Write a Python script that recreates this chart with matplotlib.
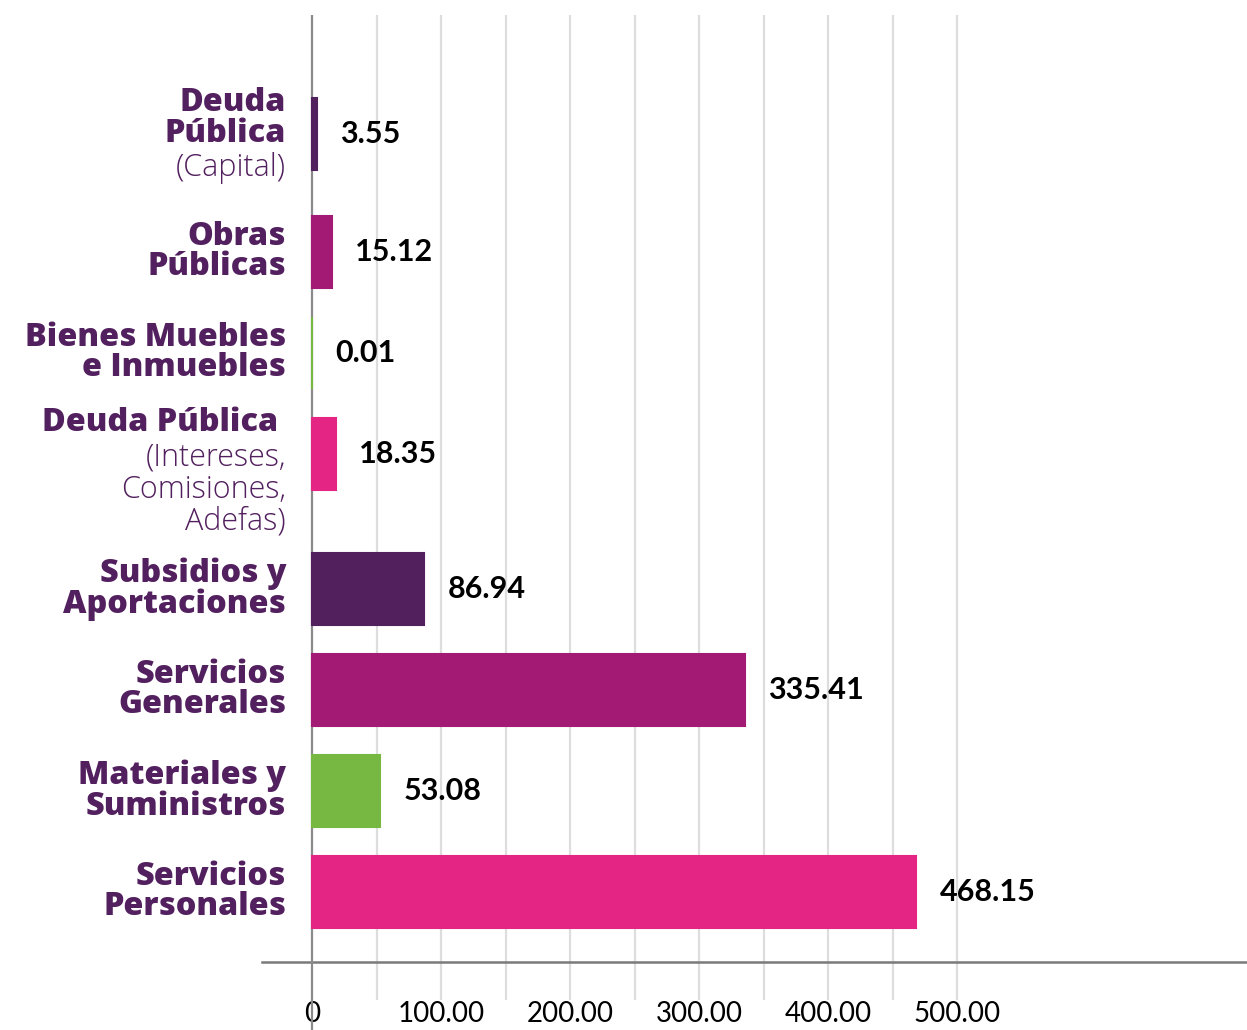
import matplotlib
matplotlib.use('Agg')
import matplotlib.pyplot as plt
import numpy as np
from matplotlib.offsetbox import TextArea, VPacker, AnnotationBbox

###############################
# datos
###############################
categorias = ['Deuda\nPública', 'Obras\nPúblicas', 'Bienes Muebles\ne Inmuebles',
              'Deuda Pública ', 'Subsidios y\nAportaciones', 'Servicios\nGenerales',
              'Materiales y\nSuministros', 'Servicios\nPersonales']
notas = ['(Capital)', '', '', '(Intereses,\nComisiones,\nAdefas)', '', '', '', '']
montos = [3.55, 15.12, 0.01, 18.35, 86.94, 335.41, 53.08, 468.15]
colores = ['#52215d', '#a21a73', '#77b843', '#e52583',
           '#52215d', '#a21a73', '#77b843', '#e52583']
ticks = [0, 100, 200, 300, 400, 500]
tick_labels = ['0', '100.00', '200.00', '300.00', '400.00', '500.00']
grid_x = np.arange(50, 501, 50)

morado = '#52205e'

###############################
# posiciones: las etiquetas largas piden mas espacio debajo
###############################
lineas = [c.count('\n') + 1 + (n.count('\n') + 1 if n else 0)
          for c, n in zip(categorias, notas)]
y_pos = [0.0]
for n in lineas[:-1]:
    y_pos.append(y_pos[-1] + 1 + 0.168 * max(n - 2, 0))
y_pos = np.array(y_pos)
alto = 0.713

###############################
# figura
###############################
W, H = 1247, 1030
fig = plt.figure(figsize=(W / 100, H / 100), dpi=100)
ax = fig.add_axes([262 / W, 68 / H, 985 / W, 947 / H])

ppu = 645 / 500.0  # pixeles por unidad
ax.set_xlim(-50 / ppu, 935 / ppu)
ax.set_ylim(y_pos[-1] + 70 / 101, -119 / 101)

ax.barh(y_pos, montos, height=alto, color=colores, edgecolor=colores,
        linewidth=1.5, zorder=4)

ax.vlines(grid_x, -0.04, 1, transform=ax.get_xaxis_transform(),
          colors='#dddddd', lw=1.6, clip_on=False, zorder=0)
ax.vlines(0, -0.072, 1, transform=ax.get_xaxis_transform(),
          colors='#8a8a8a', lw=1.6, clip_on=False, zorder=3)

for s in ['top', 'right', 'left']:
    ax.spines[s].set_visible(False)
ax.spines['bottom'].set_color('#7a7a7a')
ax.spines['bottom'].set_linewidth(1.8)

ax.set_yticks([])
ax.set_xticks(ticks, tick_labels)
ax.tick_params(axis='x', length=0, pad=28, labelsize=20)
for t in ax.get_xticklabels():
    t.set_fontfamily('Lato')

# valores
for y, v in zip(y_pos, montos):
    ax.annotate(f'{v:.2f}', xy=(v, y), xytext=(17, 0), textcoords='offset points',
                va='center', ha='left', fontsize=22, fontweight='bold',
                family='Lato', color='black')

# etiquetas de categoria
for y, cat, nota in zip(y_pos, categorias, notas):
    partes = [TextArea(cat, textprops=dict(fontsize=23.3, fontweight='heavy', color=morado,
                                           family='Open Sans', linespacing=0.95,
                                           multialignment='right'))]
    if nota:
        partes.append(TextArea(nota, textprops=dict(fontsize=22, fontweight='light', color=morado,
                                                    family='Open Sans', linespacing=1.0,
                                                    multialignment='right')))
        # bloque alto: arranca junto al borde superior de la barra
        xy, desp, caja_al = (0, y - alto / 2), (-18.7, 8), (1, 1)
    else:
        xy, desp, caja_al = (0, y), (-18.7, 0), (1, 0.5)
    caja = VPacker(children=partes, align='right', pad=0, sep=2)
    ab = AnnotationBbox(caja, xy, xybox=desp, xycoords='data',
                        boxcoords='offset points', box_alignment=caja_al,
                        frameon=False, pad=0, annotation_clip=False)
    ax.add_artist(ab)

fig.savefig('out.png', dpi=100)
